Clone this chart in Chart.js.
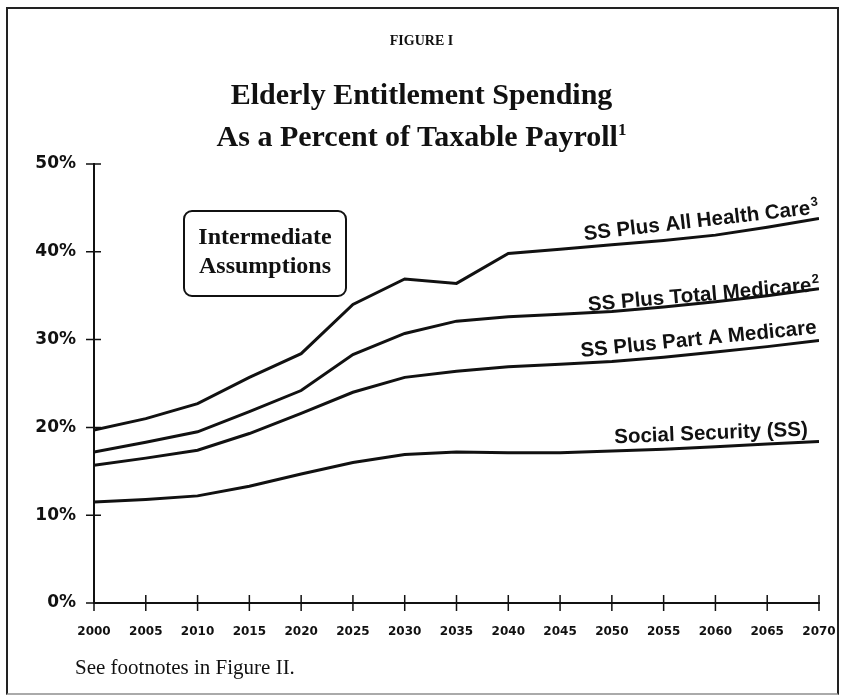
<!DOCTYPE html>
<html>
<head>
<meta charset="utf-8">
<script src="https://cdn.jsdelivr.net/npm/chart.js"></script>
<style>
  body { margin: 0; background: #fff; }
  #wrap { position: relative; width: 843px; height: 698px; overflow: hidden; }
  #frame { position: absolute; left: 6px; top: 7px; width: 829px; height: 684px;
           border: 2px solid #222; border-bottom-color: #aaa; }
  canvas { position: absolute; left: 0; top: 0; }
  .serif { font-family: "Liberation Serif", "Times New Roman", serif; font-weight: bold; color: #111; }
  #fig { position: absolute; left: 0; width: 843px; top: 33px; text-align: center; font-size: 14px; }
  #title { position: absolute; left: 0; width: 843px; top: 76px; text-align: center; font-size: 30px; line-height: 36px; }
  #box { position: absolute; left: 183px; top: 210px; width: 160px; height: 83px;
         border: 2px solid #111; border-radius: 9px; text-align: center;
         font-size: 24px; line-height: 29px; }
  #box div { padding-top: 10px; }
  #note { position: absolute; left: 75px; top: 655px; font-family: "Liberation Serif", serif;
          font-size: 21px; color: #111; }
</style>
</head>
<body>
<div id="wrap">
  <div id="frame"></div>
  <canvas id="myChart" width="843" height="698"></canvas>
  <div id="fig" class="serif">FIGURE I</div>
  <div id="title" class="serif">Elderly Entitlement Spending<br>As a Percent of Taxable Payroll<sup style="font-size:17px">1</sup></div>
  <div id="box" class="serif"><div>Intermediate<br>Assumptions</div></div>
  <div id="note">See footnotes in Figure II.</div>
</div>
<script>
// данные (% от налогооблагаемого фонда оплаты труда)
const years = [2000, 2005, 2010, 2015, 2020, 2025, 2030, 2035, 2040, 2045, 2050, 2055, 2060, 2065, 2070];
const socialSecurity = [11.5, 11.8, 12.2, 13.3, 14.7, 16.0, 16.9, 17.2, 17.1, 17.1, 17.3, 17.5, 17.8, 18.1, 18.4];
const partAMedicare = [15.7, 16.5, 17.4, 19.3, 21.6, 24.0, 25.7, 26.4, 26.9, 27.2, 27.5, 28.0, 28.6, 29.2, 29.9];
const totalMedicare = [17.2, 18.3, 19.5, 21.8, 24.2, 28.3, 30.7, 32.1, 32.6, 32.9, 33.2, 33.7, 34.3, 35.0, 35.8];
const allHealthCare = [19.7, 21.0, 22.7, 25.7, 28.4, 34.0, 36.9, 36.4, 39.8, 40.3, 40.8, 41.3, 41.9, 42.8, 43.8];
const seriesLabels = ['Social Security (SS)', 'SS Plus Part A Medicare', 'SS Plus Total Medicare', 'SS Plus All Health Care'];
const seriesNotes = ['', '', '2', '3'];
const yTicks = [0, 10, 20, 30, 40, 50];

function toPoints(values) {
  return years.map((y, i) => ({ x: y, y: values[i] }));
}

// крестики делений на осях
const crossTicks = {
  id: 'crossTicks',
  afterDraw(chart) {
    const ctx = chart.ctx;
    const xs = chart.scales.x, ys = chart.scales.y;
    ctx.save();
    ctx.strokeStyle = '#111';
    ctx.lineWidth = 1.5;
    ctx.beginPath();
    ys.ticks.forEach(t => {
      const p = ys.getPixelForValue(t.value);
      ctx.moveTo(xs.left - 8, p);
      ctx.lineTo(xs.left + 7, p);
    });
    xs.ticks.forEach(t => {
      const p = xs.getPixelForValue(t.value);
      ctx.moveTo(p, ys.bottom - 8);
      ctx.lineTo(p, ys.bottom + 8);
    });
    ctx.stroke();
    ctx.restore();
  }
};

// подписи линий у правого края, наклонённые вдоль линии
const lineLabels = {
  id: 'lineLabels',
  afterDatasetsDraw(chart, args, opts) {
    const ctx = chart.ctx;
    const xs = chart.scales.x, ys = chart.scales.y;
    const font = 'bold 20.5px "Liberation Sans", Arial, sans-serif';
    const supFont = 'bold 13px "Liberation Sans", Arial, sans-serif';
    ctx.save();
    ctx.fillStyle = '#111';
    ctx.textBaseline = 'alphabetic';
    ctx.textAlign = 'left';
    chart.data.datasets.forEach((ds, i) => {
      const last = ds.data[ds.data.length - 1];
      const x = xs.getPixelForValue(last.x) + opts.dx[i];
      const y = ys.getPixelForValue(last.y) + opts.dy[i];
      const note = seriesNotes[i];
      ctx.font = supFont;
      const supW = note ? ctx.measureText(note).width + 1 : 0;
      ctx.font = font;
      const w = ctx.measureText(ds.label).width;
      ctx.save();
      ctx.translate(x, y);
      ctx.rotate(opts.angle[i] * Math.PI / 180);
      ctx.fillText(ds.label, -w - supW, 0);
      if (note) {
        ctx.font = supFont;
        ctx.fillText(note, -supW + 1, -8);
      }
      ctx.restore();
    });
    ctx.restore();
  }
};

const lineStyle = { borderColor: '#111', borderWidth: 3, pointRadius: 0, tension: 0, fill: false };

new Chart(document.getElementById('myChart').getContext('2d'), {
  type: 'line',
  data: {
    datasets: [
      { label: seriesLabels[0], data: toPoints(socialSecurity), ...lineStyle },
      { label: seriesLabels[1], data: toPoints(partAMedicare), ...lineStyle },
      { label: seriesLabels[2], data: toPoints(totalMedicare), ...lineStyle },
      { label: seriesLabels[3], data: toPoints(allHealthCare), ...lineStyle }
    ]
  },
  options: {
    responsive: false,
    animation: false,
    layout: { padding: { left: 0, right: 24, top: 164, bottom: 0 } },
    plugins: {
      legend: { display: false },
      tooltip: { enabled: false },
      lineLabels: { dx: [-11, -2, 1, 0], dy: [-6, -7, 2, -5], angle: [-2.3, -5.7, -5, -6.5] }
    },
    scales: {
      x: {
        type: 'linear',
        min: years[0],
        max: years[years.length - 1],
        afterFit(scale) { scale.height = 95; },
        afterBuildTicks(scale) { scale.ticks = years.map(v => ({ value: v })); },
        grid: { display: true, drawOnChartArea: false, drawTicks: true, tickLength: 18, tickColor: 'rgba(0,0,0,0)' },
        border: { display: true, color: '#111', width: 2 },
        ticks: {
          autoSkip: false, maxRotation: 0, padding: 4, color: '#111',
          font: { family: '"DejaVu Sans", sans-serif', weight: 'bold', size: 12 },
          callback: v => String(v)
        }
      },
      y: {
        min: 0,
        max: 50,
        afterFit(scale) { scale.width = 94; },
        afterBuildTicks(scale) { scale.ticks = yTicks.map(v => ({ value: v })); },
        grid: { display: true, drawOnChartArea: false, drawTicks: true, tickLength: 14, tickColor: 'rgba(0,0,0,0)' },
        border: { display: true, color: '#111', width: 2 },
        ticks: {
          padding: 4, color: '#111',
          font: { family: '"DejaVu Sans", sans-serif', weight: 'bold', size: 17 },
          callback: v => v + '%'
        }
      }
    }
  },
  plugins: [crossTicks, lineLabels]
});
</script>
</body>
</html>
